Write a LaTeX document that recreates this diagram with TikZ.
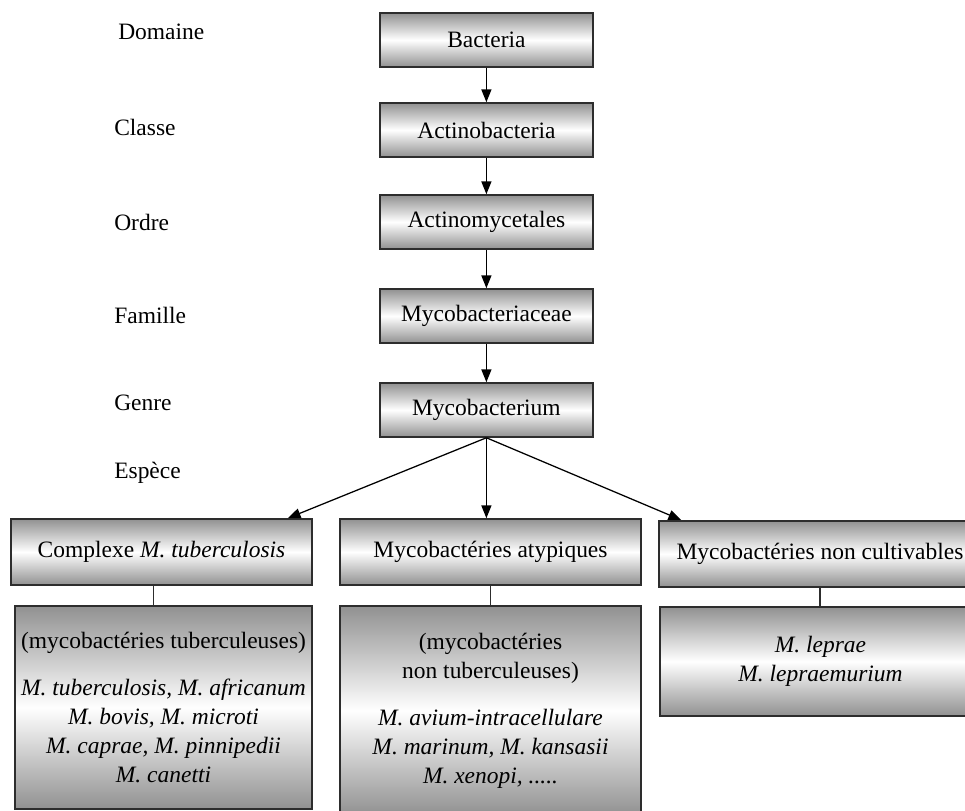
\documentclass[tikz,border=0pt]{standalone}
\usepackage{fontspec}
\setmainfont{Liberation Serif}
\usepackage{tikz}
\usetikzlibrary{arrows.meta,positioning,calc}
\definecolor{txline}{RGB}{45,45,45}
\definecolor{txgray}{RGB}{145,145,145}

\begin{document}
\begin{tikzpicture}[
  font=\fontsize{16.7}{20.6}\selectfont,
  edge/.style={-{Triangle[length=0.32cm,width=0.25cm]}, line width=0.9pt, draw=black},
  link/.style={line width=0.8pt, draw=txline},
  rank/.style={anchor=west, inner sep=0pt},
  box/.style={draw=txline, line width=1.1pt, top color=txgray, bottom color=txgray,
              middle color=white, align=center, inner sep=0pt}
]
\useasboundingbox (0,0) rectangle (24.125,20.275);

% ranks
\node[rank] (domaine) at (2.95,19.475) {Domaine};
\node[rank] (classe) at (2.85,17.1) {Classe};
\node[rank] (ordre) at (2.85,14.725) {Ordre};
\node[rank] (famille) at (2.85,12.4) {Famille};
\node[rank] (genre) at (2.85,10.2) {Genre};
\node[rank] (espece) at (2.85,8.45) {Espèce};

% main column
\node[box, minimum width=5.325cm, minimum height=1.35cm] (bact) at (12.16,19.275) {Bacteria};
\node[box, minimum width=5.325cm, minimum height=1.35cm] (actino) at (12.16,17.025) {Actinobacteria};
\node[box, minimum width=5.325cm, minimum height=1.35cm] (order) at (12.16,14.725) {Actinomycetales};
\node[box, minimum width=5.325cm, minimum height=1.35cm] (family) at (12.16,12.375) {Mycobacteriaceae};
\node[box, minimum width=5.325cm, minimum height=1.35cm] (genus) at (12.16,10.025) {Mycobacterium};

\draw[edge] (bact) -- (actino);
\draw[edge] (actino) -- (order);
\draw[edge] (order) -- (family);
\draw[edge] (family) -- (genus);

% groups
\node[box, minimum width=7.525cm, minimum height=1.65cm] (cplx) at (4.0375,6.475) {Complexe \textit{M. tuberculosis}};
\node[box, minimum width=7.525cm, minimum height=1.65cm] (atyp) at (12.2625,6.475) {Mycobactéries atypiques};
\node[box, minimum width=8.05cm, minimum height=1.65cm] (noncult) at (20.5,6.43) {Mycobactéries non cultivables};

\draw[edge] (genus.south) -- ($(cplx.north east)+(-0.625,0)$);
\draw[edge] (genus.south) -- (genus.south |- atyp.north);
\draw[edge] (genus.south) -- ($(noncult.north west)+(0.575,0)$);

% species
\node[box, minimum width=7.425cm, minimum height=5.075cm] (tub) at (4.0875,2.5875)
  {(mycobactéries tuberculeuses)\\[0.45cm]
   \textit{M. tuberculosis, M. africanum}\\\textit{M. bovis, M. microti}\\
   \textit{M. caprae, M. pinnipedii}\\\textit{M. canetti}};
\node[box, minimum width=7.525cm, minimum height=5.225cm] (ntm) at (12.2625,2.5125)
  {(mycobactéries\\non tuberculeuses)\\[0.45cm]
   \textit{M. avium-intracellulare}\\\textit{M. marinum, M. kansasii}\\
   \textit{M. xenopi, .....}};
\node[box, minimum width=8.025cm, minimum height=2.725cm] (lepra) at (20.5125,3.7375)
  {\textit{M. leprae}\\\textit{M. lepraemurium}};

\coordinate (cplxfoot) at ($(cplx.south)+(-0.2,0)$);
\draw[link] (cplxfoot) -- (cplxfoot |- tub.north);
\draw[link] (atyp.south) -- (atyp.south |- ntm.north);
\draw[link] (noncult.south) -- (noncult.south |- lepra.north);
\end{tikzpicture}
\end{document}
